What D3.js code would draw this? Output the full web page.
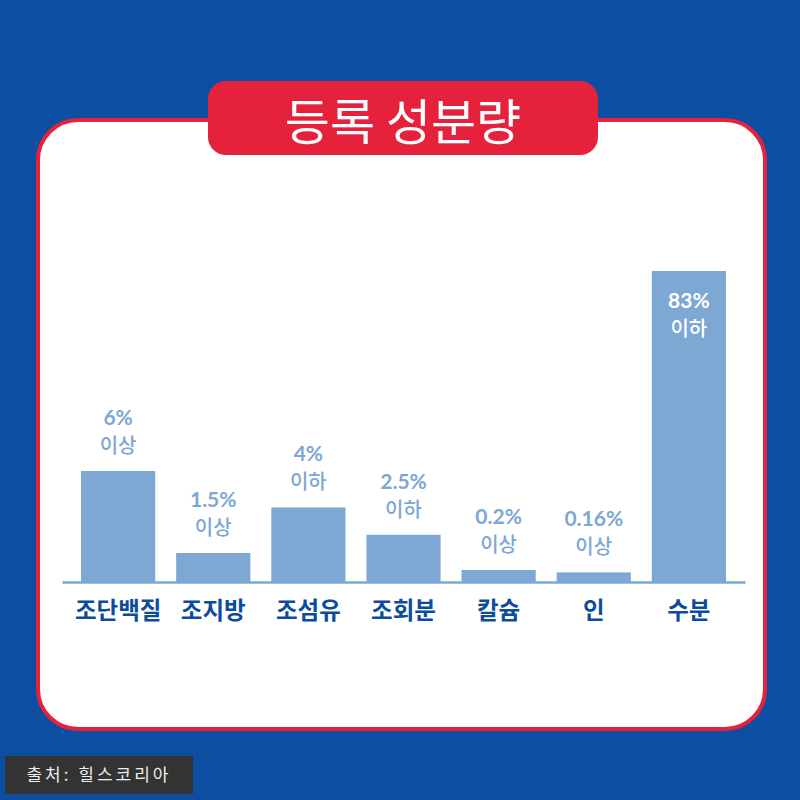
<!DOCTYPE html>
<html><head><meta charset="utf-8">
<script src="https://cdn.jsdelivr.net/npm/d3@7"></script>
<style>html,body{margin:0;padding:0;background:#0b4ea2;}svg{display:block;}</style>
</head><body>
<svg id="c" width="800" height="800"></svg>
<script>
const categories = ["조단백질","조지방","조섬유","조회분","칼슘","인","수분"];
const values = [6, 1.5, 4, 2.5, 0.2, 0.16, 83];
const valueLabels = ["6%","1.5%","4%","2.5%","0.2%","0.16%","83%"];
const qualifiers = ["이상","이상","이하","이하","이상","이상","이하"];
const title = "등록 성분량";
const source = "출처: 힐스코리아";

const svg = d3.select("#c");
const W = 800, H = 800;
const font = "'Noto Sans CJK KR','Noto Sans',sans-serif";
const numFont = "Lato,'Noto Sans CJK KR',sans-serif";

svg.append("rect").attr("width",W).attr("height",H).attr("fill","#0b4ea2");
// card
svg.append("rect").attr("x",38).attr("y",120).attr("width",727).attr("height",609)
  .attr("rx",40).attr("fill","#ffffff").attr("stroke","#e5213b").attr("stroke-width",4);
// title pill
svg.append("rect").attr("x",208).attr("y",81).attr("width",390).attr("height",74)
  .attr("rx",18).attr("fill","#e5213b");
svg.append("text").attr("x",403).attr("y",140).attr("text-anchor","middle")
  .attr("fill","#fff").attr("font-family",font).attr("font-size",49).attr("font-weight",400)
  .text(title);

const baseY = 582;
const x = d3.scaleBand().domain(categories).range([62,745]).paddingInner(0.22).paddingOuter(0.2);
const h = d3.scaleLinear().domain([0,0.2,1.5,6,83]).range([0,12,29,111,311]);

const data = categories.map((c,i)=>({c, v:values[i], vl:valueLabels[i], q:qualifiers[i]}));

svg.append("g").selectAll("rect").data(data).join("rect")
  .attr("x",d=>x(d.c)).attr("width",x.bandwidth())
  .attr("y",d=>baseY-h(d.v)).attr("height",d=>h(d.v))
  .attr("fill","#7ca8d3");

// axis
const axis = svg.append("g").attr("transform",`translate(0,${baseY})`)
  .call(d3.axisBottom(x).tickSize(0).tickPadding(0));
axis.select(".domain").attr("stroke","#7ca8d3").attr("stroke-width",2.5);
axis.selectAll(".tick text").attr("font-family",font).attr("font-size",23.5)
  .attr("font-weight",700).attr("fill","#0d4c9d").attr("dy",0).attr("y",37);

// value labels
const lbl = svg.append("g").selectAll("g").data(data).join("g");
lbl.each(function(d){
  const g = d3.select(this);
  const inside = h(d.v) > 200;
  const top = baseY - h(d.v);
  const y1 = inside ? top + 37 : top - 46;
  const col = inside ? "#ffffff" : "#7ca8d3";
  g.append("text").attr("x",x(d.c)+x.bandwidth()/2).attr("y",y1)
    .attr("text-anchor","middle").attr("fill",col).attr("font-family",numFont)
    .attr("font-size",21).attr("font-weight",700).text(d.vl);
  g.append("text").attr("x",x(d.c)+x.bandwidth()/2).attr("y",y1+28)
    .attr("text-anchor","middle").attr("fill",col).attr("font-family",font)
    .attr("font-size",20).attr("font-weight",500).text(d.q);
});

// source box
svg.append("rect").attr("x",5).attr("y",756).attr("width",188).attr("height",38).attr("fill","#333333");
svg.append("text").attr("x",99).attr("y",781).attr("text-anchor","middle")
  .attr("fill","#eeeeee").attr("font-family",font).attr("font-size",17).attr("font-weight",400)
  .attr("letter-spacing",3).text(source);
</script>
</body></html>
